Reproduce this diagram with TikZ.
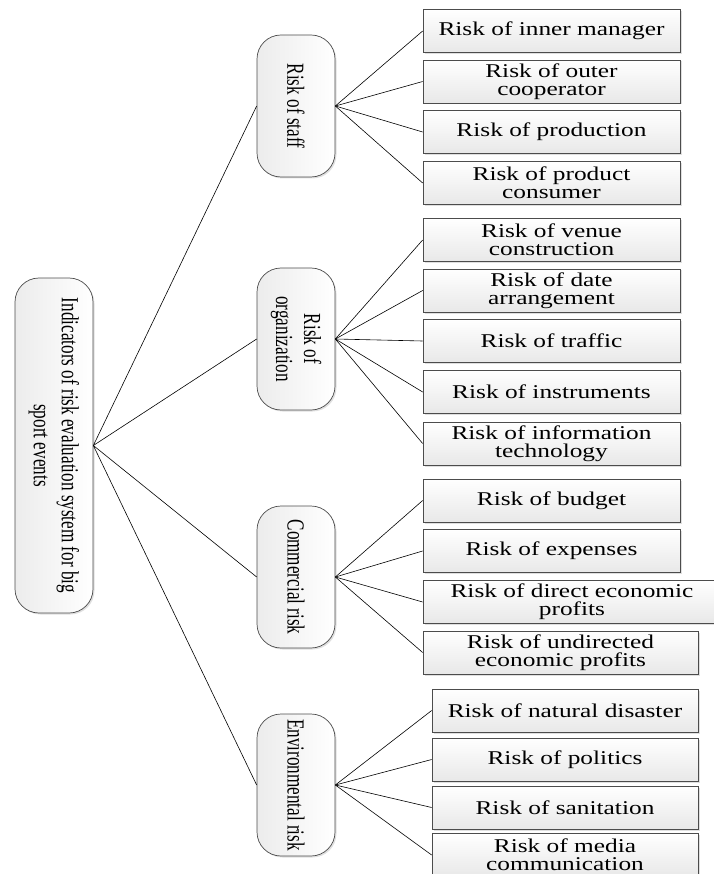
\documentclass[tikz,border=0pt]{standalone}
\usepackage{fontspec}
\usetikzlibrary{shadows}
\newfontfamily\boxfont[FakeStretch=1.3]{Liberation Serif}
\newfontfamily\capfont[FakeStretch=0.7]{Liberation Serif}
\tikzset{
  leaf/.style={draw=black!70, line width=0.7pt, top color=white, bottom color=gray!18,
    minimum width=257pt, minimum height=43pt, inner sep=1pt, align=center,
    font={\boxfont\fontsize{19.5}{18}\selectfont},
    drop shadow={shadow xshift=1.5pt, shadow yshift=-1.5pt, opacity=0.25}},
  branch/.style={draw=black!70, line width=0.7pt, rounded corners=24pt,
    left color=gray!15, right color=white, rotate=-90,
    minimum width=142pt, minimum height=78pt, inner sep=1pt, align=center,
    font={\capfont\fontsize{24.5}{28}\selectfont},
    drop shadow={shadow xshift=1.5pt, shadow yshift=-1.5pt, opacity=0.25}},
  link/.style={line width=0.6pt}
}
\begin{document}
\begin{tikzpicture}[x=1pt,y=-1pt]
  \useasboundingbox (0,0) rectangle (713,874);

  % root and the four groups
  \node[branch, minimum width=335pt] (root) at (54,445.5) {Indicators of risk evaluation system for big\\ sport events};
  \node[branch] (staff) at (296,106) {Risk of staff};
  \node[branch] (org) at (296,339) {Risk of\\ organization};
  \node[branch] (comm) at (296,577) {Commercial risk};
  \node[branch] (env) at (296,785) {Environmental risk};

  % staff
  \node[leaf] (s1) at (551.5,31) {Risk of inner manager};
  \node[leaf] (s2) at (551.5,81.5) {Risk of outer\\ cooperator};
  \node[leaf] (s3) at (551.5,132) {Risk of production};
  \node[leaf] (s4) at (551.5,183) {Risk of product\\ consumer};

  % organization
  \node[leaf] (o1) at (551.5,240) {Risk of venue\\ construction};
  \node[leaf] (o2) at (551.5,290.5) {Risk of date\\ arrangement};
  \node[leaf] (o3) at (551.5,341) {Risk of traffic};
  \node[leaf] (o4) at (551.5,392) {Risk of instruments};
  \node[leaf] (o5) at (551.5,443.5) {Risk of information\\ technology};

  % commercial
  \node[leaf] (c1) at (551.5,500.5) {Risk of budget};
  \node[leaf] (c2) at (551.5,551) {Risk of expenses};
  \node[leaf, minimum width=298pt] (c3) at (572,602) {Risk of direct economic\\ profits};
  \node[leaf, minimum width=275pt] (c4) at (560.5,652.5) {Risk of undirected\\ economic profits};

  % environment
  \node[leaf, minimum width=266pt] (e1) at (565,710.5) {Risk of natural disaster};
  \node[leaf, minimum width=266pt] (e2) at (565,759.5) {Risk of politics};
  \node[leaf, minimum width=266pt] (e3) at (565,807.5) {Risk of sanitation};
  \node[leaf, minimum width=266pt] (e4) at (565,855) {Risk of media\\ communication};

  \foreach \g in {staff,org,comm,env}
    \draw[link] (root.north) -- (\g.south);
  \foreach \l in {s1,s2,s3,s4}
    \draw[link] (staff.north) -- (\l.west);
  \foreach \l in {o1,o2,o3,o4,o5}
    \draw[link] (org.north) -- (\l.west);
  \foreach \l in {c1,c2,c3,c4}
    \draw[link] (comm.north) -- (\l.west);
  \foreach \l in {e1,e2,e3,e4}
    \draw[link] (env.north) -- (\l.west);
\end{tikzpicture}
\end{document}
